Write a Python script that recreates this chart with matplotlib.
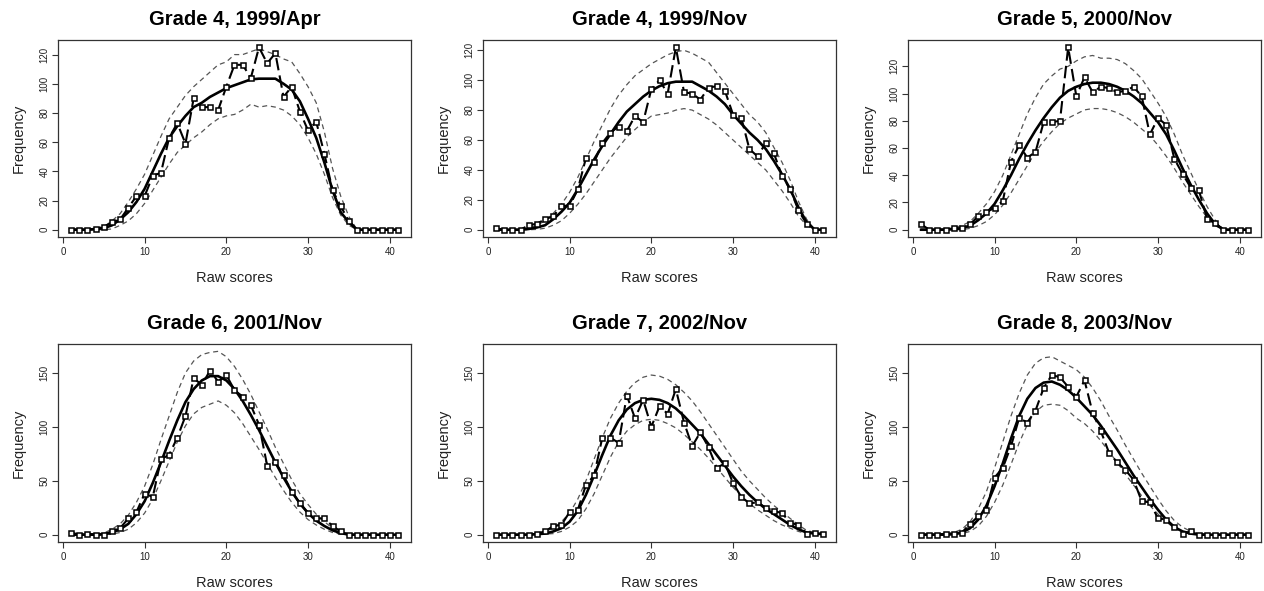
import matplotlib
matplotlib.use("Agg")
import matplotlib.pyplot as plt
import numpy as np

plt.rcParams['font.family'] = ['Liberation Sans', 'DejaVu Sans']

scores = list(range(1, 42))

titles = ["Grade 4, 1999/Apr", "Grade 4, 1999/Nov", "Grade 5, 2000/Nov",
          "Grade 6, 2001/Nov", "Grade 7, 2002/Nov", "Grade 8, 2003/Nov"]

observed = [
    [0, 0, 0, 0.5, 2, 5, 7, 15, 23, 23, 37, 39, 63, 73, 59, 90, 84, 84, 82, 98, 113,
     113, 104, 125, 114, 121, 91, 98, 81, 68, 74, 52, 27, 16, 6, 0, 0, 0, 0, 0, 0],
    [1, 0, 0, 0, 3, 4, 7, 9, 16, 16, 27, 48, 45, 58, 65, 69, 66, 76, 72, 94, 100,
     91, 122, 92, 91, 87, 95, 96, 93, 77, 75, 54, 49, 58, 51, 36, 27, 13, 4, 0, 0],
    [4, 0, 0, 0, 1, 1, 4, 10, 13, 16, 21, 50, 62, 53, 57, 79, 79, 80, 134, 98, 112,
     101, 105, 104, 101, 102, 105, 98, 70, 82, 77, 52, 41, 31, 29, 8, 5, 0, 0, 0, 0],
    [2, 0, 1, 0, 0, 3, 6, 15, 21, 38, 35, 70, 74, 90, 110, 145, 139, 152, 142, 148, 134,
     128, 120, 102, 64, 67, 55, 40, 29, 20, 15, 15, 8, 3, 0, 0, 0, 0, 0, 0, 0],
    [0, 0, 0, 0, 0, 1, 3, 8, 9, 21, 23, 46, 55, 90, 90, 85, 129, 108, 125, 100, 119,
     112, 135, 104, 82, 95, 81, 62, 66, 48, 35, 29, 30, 25, 22, 20, 11, 9, 1, 2, 1],
    [0, 0, 0, 1, 1, 2, 10, 17, 23, 53, 62, 82, 108, 104, 115, 136, 148, 146, 137, 128, 143,
     113, 96, 76, 67, 60, 51, 31, 30, 15, 14, 7, 1, 3, 0, 0, 0, 0, 0, 0, 0],
]

fitted = [
    [0, 0, 0, 0.5, 1, 3, 7, 12, 19, 28, 40, 52, 63, 71, 78, 84, 87, 91, 94, 97, 99,
     101, 103, 103.5, 103.5, 103.5, 100, 96, 88, 76, 63, 46, 27, 12, 5, 0, 0, 0, 0, 0, 0],
    [0, 0, 0, 0, 0.5, 1.5, 3, 7, 12, 18, 27, 37, 47, 56, 64, 72, 79, 84, 89, 93, 96,
     98, 99, 99, 99, 96, 93, 89, 84, 77, 71, 65, 60, 54, 46, 37, 27, 15, 5, 0, 0],
    [0, 0, 0, 0, 0.5, 1, 3, 7, 12, 19, 29, 40, 52, 63, 73, 82, 90, 97, 102, 105, 107,
     108, 108, 107, 105, 102, 98, 93, 86, 79, 70, 58, 45, 33, 22, 12, 4, 0, 0, 0, 0],
    [0, 0, 0, 0, 0.5, 2, 5, 10, 19, 31, 48, 67, 87, 106, 123, 135, 143, 147, 147, 143, 135,
     124, 111, 97, 82, 67, 53, 40, 29, 20, 13, 8, 4, 1.5, 0, 0, 0, 0, 0, 0, 0],
    [0, 0, 0, 0, 0, 0.5, 1, 3, 6, 12, 22, 37, 55, 74, 92, 106, 116, 122, 125, 126, 125,
     122, 117, 110, 102, 94, 84, 74, 64, 54, 45, 37, 30, 24, 19, 14, 9, 5, 2, 1, 0.5],
    [0, 0, 0, 0, 0.5, 2, 6, 14, 27, 45, 66, 89, 110, 126, 136, 141, 142, 139, 134, 127, 119,
     111, 101, 90, 79, 67, 55, 44, 33, 23, 14, 7, 3, 1, 0, 0, 0, 0, 0, 0, 0],
]

upper = [
    [0.5, 0.5, 0.5, 0.5, 2, 6, 11, 19, 28, 38, 51, 64, 76, 84, 92, 98, 103, 108, 113, 115, 120,
     120, 122, 124, 122, 120, 117, 115, 107, 98, 87, 67, 42, 23, 9, 0, 0, 0, 0, 0, 0],
    [0, 0, 0, 0, 1, 3, 6, 11, 17, 25, 35, 47, 59, 70, 81, 90, 97, 103, 107, 111, 114,
     117, 119, 120, 118, 115, 112, 105, 98, 91, 84, 77, 72, 65, 55, 45, 33, 19, 7, 0, 0],
    [0.5, 0.5, 0.5, 0.5, 1.5, 3, 6, 12, 19, 28, 40, 55, 70, 85, 97, 107, 113, 118, 120, 124, 127,
     128, 126, 126, 125, 122, 117, 111, 102, 93, 83, 70, 55, 42, 29, 17, 7, 0, 0, 0, 0],
    [0.5, 0.5, 0.5, 0.5, 1.5, 5, 10, 18, 30, 45, 65, 88, 110, 132, 150, 161, 167, 169, 170, 165, 156,
     144, 130, 114, 98, 81, 66, 51, 38, 28, 19, 12, 6, 2, 0, 0, 0, 0, 0, 0, 0],
    [0, 0, 0, 0, 0, 1, 3, 6, 12, 20, 33, 50, 70, 90, 108, 122, 133, 141, 146, 148, 147,
     144, 139, 132, 124, 114, 103, 92, 81, 70, 59, 50, 42, 34, 27, 21, 15, 9, 4, 2, 1],
    [0.5, 0.5, 0.5, 0.5, 2, 5, 12, 24, 40, 62, 86, 110, 131, 148, 159, 164, 165, 161, 157, 153, 146,
     136, 124, 110, 97, 83, 70, 57, 45, 33, 22, 13, 7, 3, 1, 0, 0, 0, 0, 0, 0],
]

lower = [
    [0, 0, 0, 0, 0, 0.5, 3, 6, 11, 18, 27, 36, 45, 53, 58, 63, 67, 72, 76, 78, 79,
     82, 86, 84, 85, 84, 82, 78, 72, 63, 52, 38, 22, 10, 3, 0, 0, 0, 0, 0, 0],
    [0, 0, 0, 0, 0, 0.2, 1, 3, 6, 11, 17, 24, 32, 40, 48, 55, 62, 67, 72, 76, 77,
     78, 80, 81, 80, 77, 74, 70, 65, 60, 55, 50, 45, 40, 33, 26, 18, 9, 3, 0, 0],
    [0, 0, 0, 0, 0, 0, 1, 3, 6, 11, 18, 27, 37, 47, 57, 65, 72, 78, 82, 85, 88,
     89, 89, 88, 86, 83, 79, 74, 69, 62, 54, 45, 35, 26, 17, 9, 3, 0, 0, 0, 0],
    [0, 0, 0, 0, 0, 0.5, 2, 5, 11, 20, 33, 50, 68, 86, 101, 112, 118, 121, 124, 120, 113,
     103, 91, 79, 66, 53, 41, 30, 21, 14, 9, 5, 2, 0.5, 0, 0, 0, 0, 0, 0, 0],
    [0, 0, 0, 0, 0, 0, 0.5, 1, 3, 7, 13, 24, 38, 55, 72, 86, 96, 102, 106, 107, 106,
     103, 99, 93, 86, 79, 71, 62, 53, 44, 36, 29, 23, 18, 13, 9, 6, 3, 1, 0, 0],
    [0, 0, 0, 0, 0, 1, 3, 8, 17, 30, 46, 65, 85, 102, 114, 120, 121, 120, 115, 108, 103,
     96, 87, 77, 67, 56, 46, 36, 27, 19, 12, 6, 3, 1, 0, 0, 0, 0, 0, 0, 0],
]

yticks_step = [20, 20, 20, 50, 50, 50]

W, H = 1264, 591
fig = plt.figure(figsize=(W / 100, H / 100), dpi=100)

col_left = [58, 483, 908]
box_w = 353
row_top = [40, 344]
box_h = [197, 198]

axis_col = '#333333'
band_col = '#555555'

# y limits: top row per panel, bottom row shared
row_max = []
for r in range(2):
    m = 0
    for c in range(3):
        i = r * 3 + c
        m = max(m, max(observed[i]), max(upper[i]))
    row_max.append(m)

for i in range(6):
    r, c = divmod(i, 3)
    left = col_left[c] / W
    bottom = 1 - (row_top[r] + box_h[r]) / H
    ax = fig.add_axes([left, bottom, box_w / W, box_h[r] / H])
    x = np.array(scores)
    ax.plot(x, upper[i], color=band_col, lw=0.9, ls=(0, (4, 3)), zorder=2)
    ax.plot(x, lower[i], color=band_col, lw=0.9, ls=(0, (4, 3)), zorder=2)
    ax.plot(x, fitted[i], color='black', lw=1.9, zorder=3)
    ax.plot(x, observed[i], color='black', lw=1.5, ls=(0, (6, 2.5)),
            marker='s', ms=3.6, mfc='white', mec='black', mew=1.1, zorder=4)
    if r == 0:
        ymax = max(max(observed[i]), max(upper[i]))
    else:
        ymax = row_max[r]
    pad = 0.04 * ymax
    ax.set_ylim(-pad, ymax + pad)
    ax.set_xlim(1 - 0.04 * 40, 41 + 0.04 * 40)
    ax.set_xticks([0, 10, 20, 30, 40])
    step = yticks_step[i]
    ax.set_yticks(np.arange(0, ymax + 1e-9, step))
    ax.tick_params(axis='both', direction='out', length=4.5, width=0.8,
                   colors=axis_col, labelsize=7, labelcolor='#222222')
    ax.tick_params(axis='x', pad=2.5)
    ax.tick_params(axis='y', pad=1.5)
    for lab in ax.get_yticklabels():
        lab.set_rotation(90)
        lab.set_va('center')
    for s in ax.spines.values():
        s.set_color(axis_col)
        s.set_linewidth(0.9)
    ax.set_title(titles[i], fontsize=14.5, fontweight='bold', pad=11)
    ax.set_xlabel("Raw scores", fontsize=10.5, color='#222222', labelpad=10)
    ax.set_ylabel("Frequency", fontsize=10.5, color='#222222', labelpad=10)

fig.savefig("out.png", dpi=100, facecolor='white')
